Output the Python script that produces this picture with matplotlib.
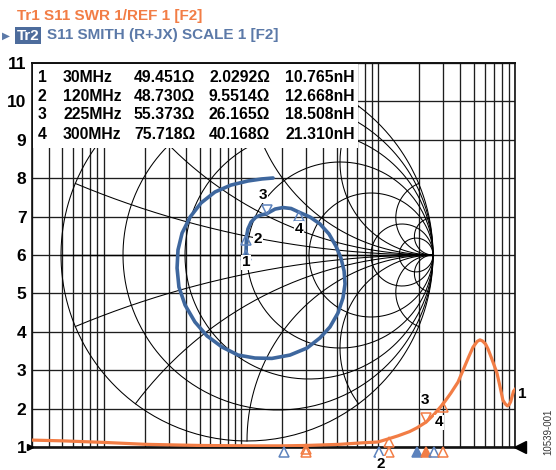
import numpy as np
import matplotlib
matplotlib.use("Agg")
import matplotlib.pyplot as plt
from matplotlib.transforms import Affine2D, offset_copy, blended_transform_factory
from matplotlib.ticker import LogLocator, NullFormatter
from matplotlib.patches import Rectangle

plt.rcParams['font.family'] = ['Liberation Sans', 'DejaVu Sans']
plt.rcParams['font.weight'] = 'bold'

ORANGE = '#f27d45'
BLUE = '#3e679e'
HEAD_BLUE = '#5b79a8'
GRID = '#1e1e1e'

# marker readout: frequency (MHz), R (ohm), X (ohm), L (nH)
marker_freq = [30, 120, 225, 300]
marker_r = [49.451, 48.730, 55.373, 75.718]
marker_x = [2.0292, 9.5514, 26.165, 40.168]
marker_l = [10.765, 12.668, 18.508, 21.310]

# trace 1: SWR against frequency (MHz)
swr_freq = [0.3, 0.5, 1, 2, 5, 12, 20, 30, 53, 78, 100, 120, 140, 170, 193,
            225, 260, 300, 340, 384, 418, 460, 494, 530, 555, 580, 610, 636,
            680, 738, 780, 816, 850, 880, 905, 930, 950, 975, 1000]
swr_vals = [1.18, 1.16, 1.12, 1.07, 1.04, 1.03, 1.03, 1.04, 1.07, 1.11, 1.13,
            1.215, 1.29, 1.40, 1.50, 1.65, 1.87, 2.13, 2.40, 2.69, 3.00, 3.35,
            3.60, 3.75, 3.79, 3.76, 3.68, 3.55, 3.28, 2.93, 2.55, 2.22, 2.12,
            2.07, 2.10, 2.18, 2.30, 2.45, 2.50]

# trace 2: S11 reflection coefficient along the sweep
s11_re = [-0.011, -0.005, -0.004, -0.003, 0.005, 0.022, 0.048, 0.075, 0.106,
          0.151, 0.194, 0.237, 0.278, 0.339, 0.392, 0.441, 0.478, 0.505, 0.522,
          0.527, 0.516, 0.489, 0.446, 0.392, 0.323, 0.231, 0.134, 0.043, -0.048,
          -0.134, -0.215, -0.280, -0.333, -0.366, -0.376, -0.371, -0.349,
          -0.306, -0.247, -0.172, -0.086, 0.005, 0.081, 0.140]
s11_im = [-0.038, 0.020, 0.058, 0.097, 0.140, 0.177, 0.204, 0.215, 0.222,
          0.247, 0.255, 0.250, 0.231, 0.204, 0.167, 0.113, 0.048, -0.016,
          -0.086, -0.156, -0.231, -0.312, -0.387, -0.446, -0.500, -0.538,
          -0.556, -0.554, -0.538, -0.495, -0.435, -0.360, -0.269, -0.172,
          -0.070, 0.027, 0.118, 0.204, 0.280, 0.339, 0.376, 0.398, 0.409, 0.414]

# smith grid circles
r_circles = [0, 0.2, 0.5, 1, 2, 5, 10]
x_arcs = [0.2, 0.5, 1, 2, 5, 10]

fig = plt.figure(figsize=(5.56, 4.70), dpi=100)
ax = fig.add_axes([32 / 556, 1 - 447 / 470, 483 / 556, 384 / 470])

ax.set_xscale('log')
ax.set_xlim(0.3, 1000)
ax.set_ylim(1, 11)
ax.xaxis.set_major_locator(LogLocator(base=10, subs=(1.0,)))
ax.xaxis.set_minor_locator(LogLocator(base=10, subs=np.arange(2, 10)))
ax.xaxis.set_minor_formatter(NullFormatter())
ax.tick_params(axis='x', which='both', length=0, labelbottom=False)
ax.set_yticks(range(1, 12))
ax.set_yticklabels([str(v) for v in range(1, 12)], fontsize=12.5, fontweight='bold')
ax.tick_params(axis='y', length=0, pad=4)
ax.set_axisbelow(True)
ax.grid(True, which='both', color=GRID, lw=0.95)
for side, w in [('left', 1.2), ('right', 1.2), ('top', 1.4), ('bottom', 1.9)]:
    ax.spines[side].set_color('#111111')
    ax.spines[side].set_linewidth(w)

# smith chart placed in axes fraction: unit circle -> 186 px radius
smith = Affine2D().scale(186 / 483, 186 / 384).translate(215 / 483, 0.5) + ax.transAxes

t = np.concatenate([-np.logspace(4, -3, 300), [0], np.logspace(-3, 4, 300)])
for r in r_circles:
    g = (r + 1j * t - 1) / (r + 1j * t + 1)
    ax.plot(np.append(g.real, 1), np.append(g.imag, 0), transform=smith,
            color='black', lw=0.75, zorder=1)
rr = np.concatenate([[0], np.logspace(-3, 4, 400)])
for x in x_arcs:
    for s in (1, -1):
        g = (rr + 1j * s * x - 1) / (rr + 1j * s * x + 1)
        ax.plot(g.real, g.imag, transform=smith, color='black', lw=0.75, zorder=1)
ax.plot([-1, 1], [0, 0], transform=smith, color='black', lw=1.0, zorder=1)

# traces
ax.plot(s11_re, s11_im, transform=smith, color=BLUE, lw=2.6,
        solid_joinstyle='round', solid_capstyle='round', zorder=4)
ax.plot(swr_freq, swr_vals, color=ORANGE, lw=2.3,
        solid_joinstyle='round', zorder=4)

# marker positions from readout impedances
z = (np.array(marker_r) + 1j * np.array(marker_x)) / 50.0
gam = (z - 1) / (z + 1)
swr_mk = (1 + np.abs(gam)) / (1 - np.abs(gam))

ms = 7
up = offset_copy(smith, fig, y=-3.5, units='dots')
down = offset_copy(smith, fig, y=3.5, units='dots')
tr_up = offset_copy(ax.transData, fig, y=-3.5, units='dots')
tr_down = offset_copy(ax.transData, fig, y=3.5, units='dots')
smith_off = [(0, -8), (8.5, -1.8), (-3, 13.5), (0.5, -12)]
swr_off = [None, (-5.6, -17.9), (-1, 15.5), (-3.4, -13.6)]
for i in range(4):
    active = i == 2
    mk = 'v' if active else '^'
    ax.plot(gam[i].real, gam[i].imag, marker=mk, ms=ms, mfc='none', mec='#5d83bd',
            mew=1.1, transform=down if active else up, zorder=5)
    ax.plot(marker_freq[i], swr_mk[i], marker=mk, ms=ms, mfc='none', mec=ORANGE,
            mew=1.1, transform=tr_down if active else tr_up, zorder=5, clip_on=False)
    ax.annotate(str(i + 1), xy=(gam[i].real, gam[i].imag), xycoords=smith,
                xytext=smith_off[i], textcoords='offset points', ha='center',
                va='center', fontsize=11, fontweight='bold', zorder=6,
                bbox=dict(fc='white', ec='none', pad=0.6))
    if swr_off[i] is not None:
        ax.annotate(str(i + 1), xy=(marker_freq[i], swr_mk[i]),
                    xytext=swr_off[i], textcoords='offset points', ha='center',
                    va='center', fontsize=11, fontweight='bold', zorder=6,
                    annotation_clip=False,
                    bbox=dict(fc='white', ec='none', pad=0.6))

# stimulus markers under the axis (trace 2 drawn just left of trace 1)
bt = blended_transform_factory(ax.transData, ax.transAxes)
row_or = offset_copy(bt, fig, y=-5, units='dots')
blue_shift = [-22, -10, -9, -9]
for i, f in enumerate(marker_freq):
    active = i == 2
    row_bl = offset_copy(bt, fig, x=blue_shift[i], y=-5, units='dots')
    ax.plot(f, 0, marker='^', ms=ms, mfc='#5d83bd' if active else 'none',
            mec='#5d83bd', mew=1.1, transform=row_bl, clip_on=False, zorder=5)
    ax.plot(f, 0, marker='^', ms=ms, mfc=ORANGE if active else 'none',
            mec=ORANGE, mew=1.1, transform=row_or, clip_on=False, zorder=5)

# reference position arrows
ax.plot(1.0, 0, marker='<', ms=9, color='black', transform=offset_copy(
    ax.transAxes, fig, x=5, units='dots'), clip_on=False, zorder=6)
ax.plot(0, 0, marker='>', ms=5, color='black', transform=offset_copy(
    ax.transAxes, fig, x=-2, units='dots'), clip_on=False, zorder=6)

# trace number at the end of trace 1
ax.annotate('1', xy=(swr_freq[-1], swr_vals[-1]), xytext=(5.5, -3.5),
            textcoords='offset points', ha='center', va='center', fontsize=11,
            fontweight='bold', annotation_clip=False)

# marker table
ax.add_patch(Rectangle((0.002, 0.779), 0.673, 0.219, transform=ax.transAxes,
                       facecolor='white', edgecolor='none', zorder=3))
row_y = [0.9635, 0.914, 0.8646, 0.815]
for i in range(4):
    kw = dict(transform=ax.transAxes, fontsize=11.3, fontweight='bold',
              va='center', zorder=7)
    ax.text(0.0124, row_y[i], str(i + 1), ha='left', **kw)
    ax.text(0.0642, row_y[i], f'{marker_freq[i]}MHz', ha='left', **kw)
    ax.text(0.3375, row_y[i], f'{marker_r[i]:.3f}Ω', ha='right', **kw)
    ax.text(0.4928, row_y[i], f'{marker_x[i]:.5g}Ω', ha='right', **kw)
    ax.text(0.6687, row_y[i], f'{marker_l[i]:.3f}nH', ha='right', **kw)

# channel header
fig.text(17 / 556, 1 - 16 / 470, 'Tr1 S11 SWR 1/REF 1 [F2]', color=ORANGE,
         fontsize=11, fontweight='bold', va='center', ha='left')
fig.text(2 / 556, 1 - 35.5 / 470, '▶', color=HEAD_BLUE, fontsize=7.5,
         va='center', ha='left', family=['DejaVu Sans'])
fig.text(17 / 556, 1 - 35.5 / 470, 'Tr2', color='white', fontsize=11,
         fontweight='bold', va='center', ha='left',
         bbox=dict(fc='#4d6c9c', ec='none', pad=1.2))
fig.text(47 / 556, 1 - 35.5 / 470, 'S11 SMITH (R+JX) SCALE 1 [F2]',
         color=HEAD_BLUE, fontsize=11, fontweight='bold', va='center', ha='left')

fig.text(548 / 556, 1 - 432 / 470, '10539-001', rotation=90, fontsize=7,
         fontweight='normal', color='#333333', ha='center', va='center')

fig.savefig('out.png', dpi=100)
